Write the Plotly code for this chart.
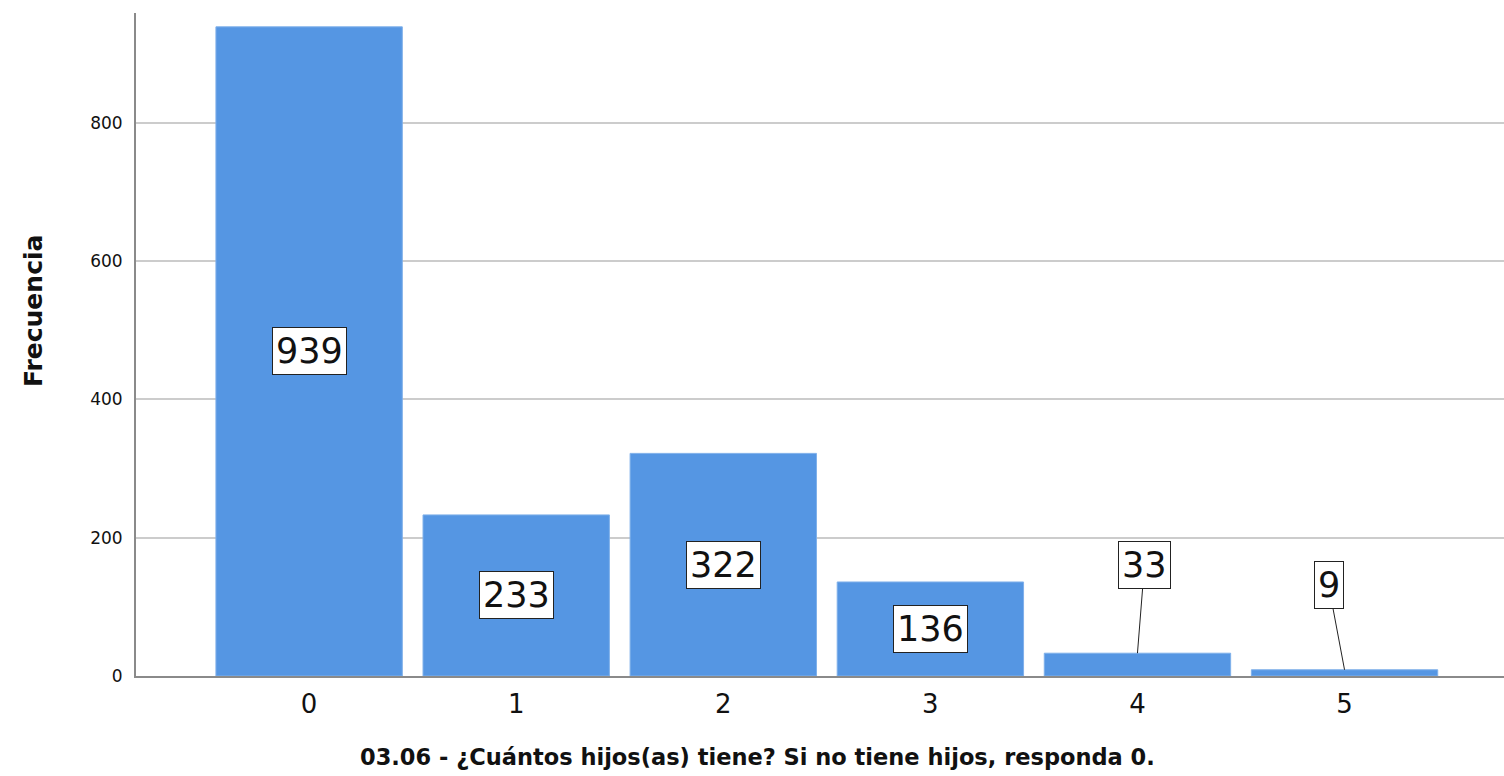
import plotly.graph_objects as go

categories = ["0", "1", "2", "3", "4", "5"]
counts = [939, 233, 322, 136, 33, 9]
y_ticks = [0, 200, 400, 600, 800]
x_title = "03.06 - ¿Cuántos hijos(as) tiene? Si no tiene hijos, responda 0."
y_title = "Frecuencia"

bar_color = "#5596e3"
font_family = "DejaVu Sans, Verdana, sans-serif"

xpos = list(range(len(categories)))

fig = go.Figure()
fig.add_trace(go.Bar(
    x=xpos, y=counts, width=0.9,
    marker=dict(color=bar_color, line=dict(color="#7fb0ea", width=1)),
    hoverinfo="x+y", showlegend=False,
))

# value labels: inside bars at half height; small bars use a leader line
outside_offsets = {4: (7, -88), 5: (-16, -85)}
for i, v in enumerate(counts):
    common = dict(
        text=str(v), xref="x", yref="y",
        font=dict(family=font_family, size=35, color="#111111"),
        bgcolor="white", bordercolor="#222222", borderwidth=1, borderpad=3,
    )
    if i in outside_offsets:
        ax, ay = outside_offsets[i]
        fig.add_annotation(
            x=xpos[i], y=v, showarrow=True, arrowhead=0, arrowwidth=1,
            arrowcolor="#222222", ax=ax, ay=ay, standoff=0, **common,
        )
    else:
        fig.add_annotation(x=xpos[i], y=v / 2, showarrow=False, **common)

fig.add_annotation(
    x=-0.0753, y=0.5505, xref="paper", yref="paper",
    xanchor="center", yanchor="middle",
    text=f"<b>{y_title}</b>", textangle=-90, showarrow=False,
    font=dict(family=font_family, size=25, color="#111111"),
)
fig.add_annotation(
    x=0.454, y=0, xref="paper", yref="paper",
    xanchor="center", yanchor="middle",
    text=f"<b>{x_title}</b>", showarrow=False,
    font=dict(family=font_family, size=22.5, color="#111111"),
    yshift=-81,
)

fig.update_layout(
    width=1504, height=776,
    margin=dict(l=136, r=0, t=13, b=100),
    paper_bgcolor="white", plot_bgcolor="white",
    bargap=0.1,
    font=dict(family=font_family, color="#111111"),
    xaxis=dict(
        range=[-0.836, 5.77],
        tickmode="array", tickvals=xpos, ticktext=categories,
        showgrid=False, zeroline=False,
        showline=True, linecolor="#8a8a8a", linewidth=2,
        ticks="", tickfont=dict(size=26, family=font_family, color="#111111"),
        ticklabelstandoff=4,
    ),
    yaxis=dict(
        range=[0, 959],
        tickmode="array", tickvals=y_ticks,
        showgrid=True, gridcolor="#cccccc", gridwidth=1.5,
        zeroline=False,
        showline=True, linecolor="#8a8a8a", linewidth=2,
        ticks="", tickfont=dict(size=17, family=font_family, color="#111111"),
        ticklabelstandoff=8,
    ),
)

fig.write_html(
    "out.html",
    config={"displayModeBar": False},
    post_script="document.body.style.margin='0';document.body.style.overflow='hidden';",
)
